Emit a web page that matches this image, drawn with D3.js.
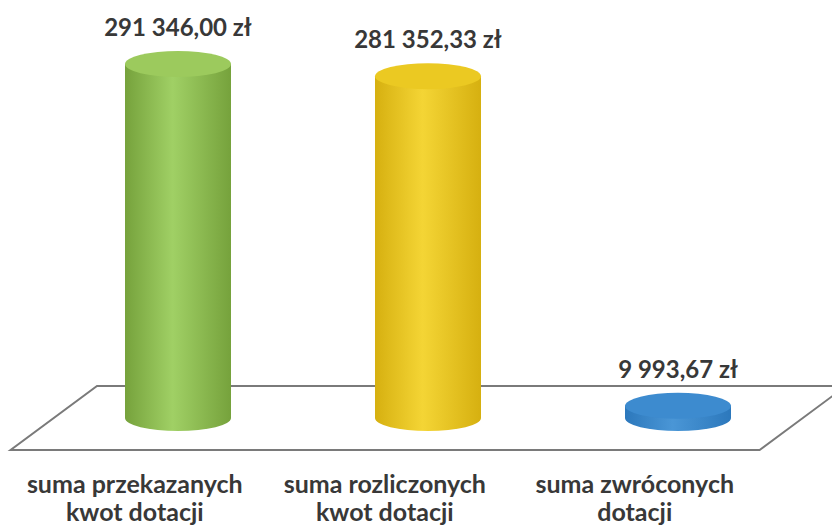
<!DOCTYPE html>
<html>
<head>
<meta charset="utf-8">
<script src="https://cdn.jsdelivr.net/npm/d3@7"></script>
<style>
  body { margin: 0; background: #fff; }
  svg { display: block; }
</style>
</head>
<body>
<div id="chart"></div>
<script>
// dane
var categories = [["suma przekazanych", "kwot dotacji"], ["suma rozliczonych", "kwot dotacji"], ["suma zwróconych", "dotacji"]];
var values = [291346.00, 281352.33, 9993.67];
var valueLabels = ["291 346,00 zł", "281 352,33 zł", "9 993,67 zł"];
var colors = [
  { dark: "#76a23c", light: "#a0d065", top: "#9cca5d" },
  { dark: "#d6b010", light: "#f4d535", top: "#ebc922" },
  { dark: "#2c78bc", light: "#4a96d6", top: "#3d8bcf" }
];

var width = 832, height = 527;
var baseY = 418;      // środek dolnej elipsy
var rx = 53, ry = 13; // promienie elipsy
var slant = 1.35;     // przesunięcie perspektywy (px w poziomie na px w pionie)

var svg = d3.select("#chart").append("svg")
  .attr("width", width)
  .attr("height", height);

var x = d3.scalePoint()
  .domain(d3.range(values.length))
  .range([53, 803])
  .padding(0.5);

var y = d3.scaleLinear()
  .domain([0, d3.max(values)])
  .range([baseY, 64]);

// gradienty
var defs = svg.append("defs");
colors.forEach(function(c, i) {
  var g = defs.append("linearGradient")
    .attr("id", "side" + i)
    .attr("x1", "0%").attr("x2", "100%").attr("y1", "0%").attr("y2", "0%");
  g.append("stop").attr("offset", "0%").attr("stop-color", c.dark);
  g.append("stop").attr("offset", "45%").attr("stop-color", c.light);
  g.append("stop").attr("offset", "100%").attr("stop-color", c.dark);
});

// podłoga
var backY = 386, frontY = 450;
var floorBack = [97, 846], floorFront = [97 - (frontY - backY) * slant, 846 - (frontY - backY) * slant];
svg.append("path")
  .attr("d", "M" + floorBack[0] + "," + backY + " L" + floorBack[1] + "," + backY +
             " L" + floorFront[1] + "," + frontY + " L" + floorFront[0] + "," + frontY + " Z")
  .attr("fill", "#fff")
  .attr("stroke", "#7a7a7a")
  .attr("stroke-width", 2);

// walce
var bars = svg.selectAll(".bar").data(values).enter()
  .append("g")
  .attr("class", "bar");

bars.append("path")
  .attr("d", function(d, i) {
    var cx = x(i), top = y(d);
    return "M" + (cx - rx) + "," + top +
      " L" + (cx - rx) + "," + baseY +
      " A" + rx + "," + ry + " 0 0 0 " + (cx + rx) + "," + baseY +
      " L" + (cx + rx) + "," + top + " Z";
  })
  .attr("fill", function(d, i) { return "url(#side" + i + ")"; });

bars.append("ellipse")
  .attr("cx", function(d, i) { return x(i); })
  .attr("cy", function(d) { return y(d); })
  .attr("rx", rx)
  .attr("ry", ry)
  .attr("fill", function(d, i) { return colors[i].top; });

// etykiety wartości
bars.append("text")
  .attr("x", function(d, i) { return x(i); })
  .attr("y", function(d) { return y(d) - ry - 15; })
  .attr("text-anchor", "middle")
  .attr("fill", "#383838")
  .attr("font-family", "Lato, sans-serif")
  .attr("font-weight", "bold")
  .attr("font-size", "24px")
  .text(function(d, i) { return valueLabels[i]; });

// etykiety kategorii
var cat = svg.selectAll(".cat").data(categories).enter()
  .append("text")
  .attr("class", "cat")
  .attr("text-anchor", "middle")
  .attr("fill", "#383838")
  .attr("font-family", "Lato, sans-serif")
  .attr("font-weight", "bold")
  .attr("font-size", "25px");

cat.selectAll("tspan").data(function(d, i) { return d.map(function(t) { return { t: t, i: i }; }); })
  .enter().append("tspan")
  .attr("x", function(d) { return x(d.i) - (frontY - baseY) * slant; })
  .attr("y", function(d, j) { return 493 + j * 28; })
  .text(function(d) { return d.t; });
</script>
</body>
</html>
